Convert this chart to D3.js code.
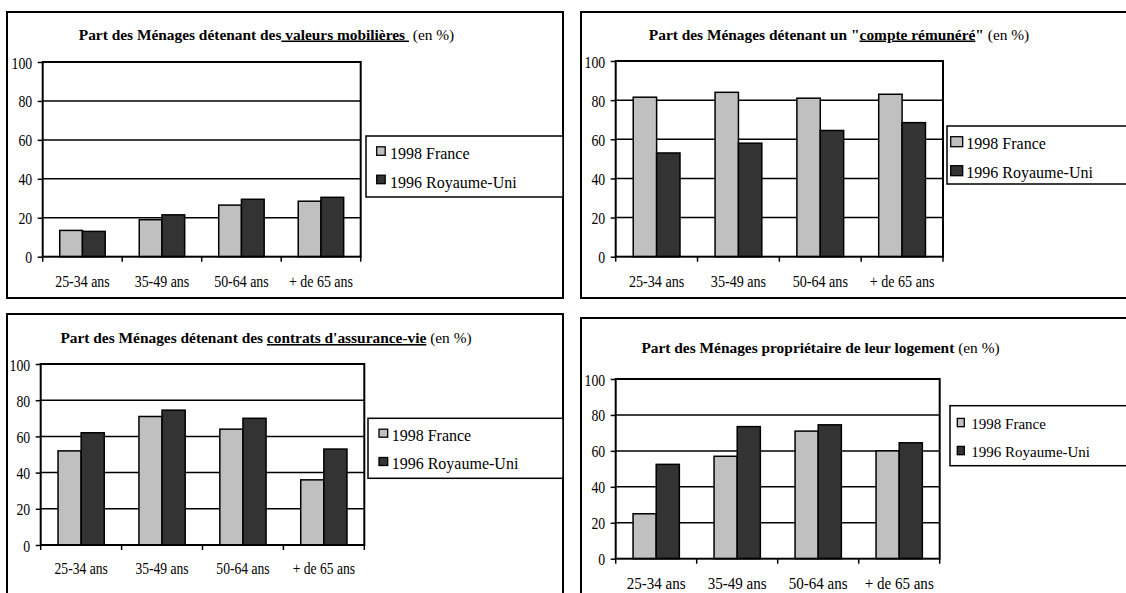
<!DOCTYPE html>
<html><head><meta charset="utf-8">
<script src="https://cdn.jsdelivr.net/npm/d3@7/dist/d3.min.js"></script>
<style>body{margin:0;background:#fff;overflow:hidden} svg{display:block}</style>
</head><body><svg id="c" width="1126" height="593"></svg>
<script>
// ---- data ----
const categories = ["25-34 ans", "35-49 ans", "50-64 ans", "+ de 65 ans"];
const seriesNames = ["1998 France", "1996 Royaume-Uni"];
const yTicks = [0, 20, 40, 60, 80, 100];
const valeursFrance = [13.5, 19, 26.5, 28.5];
const valeursRU = [13, 21.5, 29.5, 30.5];
const compteFrance = [81.5, 84, 81, 83];
const compteRU = [53, 58, 64.5, 68.5];
const assuranceFrance = [52, 71, 64, 36];
const assuranceRU = [62, 74.5, 70, 53];
const logementFrance = [25, 57, 71, 60];
const logementRU = [52.5, 73.5, 74.5, 64.5];
const titleValeurs = [["Part des Ménages détenant des", "b"], [" valeurs mobilières ", "bu"], [" (en %)", "r"]];
const titleCompte = [["Part des Ménages détenant un \"", "b"], ["compte rémunéré", "bu"], ["\"", "b"], [" (en %)", "r"]];
const titleAssurance = [["Part des Ménages détenant des ", "b"], ["contrats d'assurance-vie", "bu"], [" (en %)", "r"]];
const titleLogement = [["Part des Ménages propriétaire de leur logement", "b"], [" (en %)", "r"]];

const colors = ["#c0c0c0", "#333333"];
const FONT = "Liberation Serif";

// ---- layout ----
const panels = [
  {france: valeursFrance, ru: valeursRU, title: titleValeurs,
   frame: [7, 12, 556, 286], plot: [42.7, 62, 318, 194.7], titleX: 266.5, titleY: 39.5, xLabY: 286.5,
   leg: {x: 366, y: 136, w: 197, h: 61, sx: 10.7, sw: 8.5, sh: 8.5, sdy: -12.5, tx: 24, rows: [23.3, 51.7], fs: 16},
   xfs: 17, xsc: 0.82},
  {france: compteFrance, ru: compteRU, title: titleCompte,
   frame: [581, 12, 600, 286], plot: [615.7, 61, 327.3, 195.7], titleX: 839, titleY: 39.5, xLabY: 286.5,
   leg: {x: 947, y: 126, w: 200, h: 58, sx: 3.7, sw: 12, sh: 10, sdy: -12.3, tx: 19.3, rows: [23, 52], fs: 16},
   xfs: 17, xsc: 0.83},
  {france: assuranceFrance, ru: assuranceRU, title: titleAssurance,
   frame: [7, 314, 556, 300], plot: [40.7, 364, 323.6, 181], titleX: 266, titleY: 343, xLabY: 574,
   leg: {x: 368, y: 418.3, w: 195, h: 60, sx: 11, sw: 8.7, sh: 8, sdy: -11.5, tx: 23.7, rows: [22.4, 50.7], fs: 16},
   xfs: 17, xsc: 0.80},
  {france: logementFrance, ru: logementRU, title: titleLogement,
   frame: [581, 318, 600, 300], plot: [615.7, 379, 324, 179.7], titleX: 820.5, titleY: 353, xLabY: 588.5,
   leg: {x: 950, y: 405.7, w: 200, h: 60, sx: 7.3, sw: 7, sh: 8.3, sdy: -10.3, tx: 21.3, rows: [23, 51], fs: 15},
   xfs: 17.5, xsc: 0.86}
];

const svg = d3.select("#c");

panels.forEach(p => {
  const g = svg.append("g");
  const [fx, fy, fw, fh] = p.frame;
  g.append("rect").attr("x", fx).attr("y", fy).attr("width", fw).attr("height", fh)
    .attr("fill", "#fff").attr("stroke", "#000").attr("stroke-width", 2);

  // title
  const t = g.append("text").attr("x", p.titleX).attr("y", p.titleY)
    .attr("text-anchor", "middle").style("font-family", FONT).attr("font-size", 15.4).attr("fill", "#000")
    .style("white-space", "pre");
  p.title.forEach(([s, st]) => {
    const ts = t.append("tspan").text(s)
      .attr("font-weight", st.includes("b") ? "bold" : "normal");
    if (st.includes("u")) ts.attr("text-decoration", "underline");
  });

  const [px, py, pw, ph] = p.plot;
  const x = d3.scaleBand().domain(categories).range([px, px + pw]).padding(0);
  const x1 = d3.scaleBand().domain(seriesNames).range([0, x.bandwidth()]).paddingInner(0).paddingOuter(0.75);
  const y = d3.scaleLinear().domain([0, 100]).range([py + ph, py]);

  g.append("rect").attr("x", px).attr("y", py).attr("width", pw).attr("height", ph).attr("fill", "#fff");

  // gridlines
  g.append("g").selectAll("line").data(yTicks.filter(v => v > 0 && v < 100)).join("line")
    .attr("x1", px).attr("x2", px + pw).attr("y1", d => y(d)).attr("y2", d => y(d))
    .attr("stroke", "#000").attr("stroke-width", 1.5);

  // bars
  const rows = categories.map((c, i) => ({c, v: [p.france[i], p.ru[i]]}));
  g.append("g").selectAll("g").data(rows).join("g")
    .attr("transform", d => `translate(${x(d.c)},0)`)
    .selectAll("rect").data(d => d.v.map((v, k) => ({v, k}))).join("rect")
    .attr("x", d => x1(seriesNames[d.k])).attr("width", x1.bandwidth())
    .attr("y", d => y(d.v)).attr("height", d => y(0) - y(d.v))
    .attr("fill", d => colors[d.k]).attr("stroke", "#000").attr("stroke-width", 1.5);

  // plot border
  g.append("rect").attr("x", px).attr("y", py).attr("width", pw).attr("height", ph)
    .attr("fill", "none").attr("stroke", "#000").attr("stroke-width", 2);

  // y axis
  const ya = g.append("g").attr("transform", `translate(${px},0)`)
    .call(d3.axisLeft(y).tickValues(yTicks).tickSize(5).tickSizeOuter(0).tickPadding(0));
  ya.attr("font-family", null);
  ya.select(".domain").remove();
  ya.selectAll(".tick line").attr("stroke", "#000").attr("stroke-width", 1.5);
  ya.selectAll(".tick text").style("font-family", FONT).attr("font-size", 17).attr("fill", "#000")
    .attr("x", null).attr("dy", null).attr("dominant-baseline", "central")
    .attr("transform", "translate(-10.5,0) scale(0.81,1)");

  // x axis labels
  const xa = g.append("g").attr("transform", `translate(0,${py + ph})`)
    .call(d3.axisBottom(x).tickSize(0).tickPadding(0));
  xa.attr("font-family", null);
  xa.select(".domain").remove();
  xa.selectAll(".tick text").style("font-family", FONT).attr("font-size", p.xfs).attr("fill", "#000")
    .attr("y", null).attr("dy", null)
    .attr("transform", `translate(0,${p.xLabY - (py + ph)}) scale(${p.xsc},1)`);
  // x tick marks at category boundaries
  const bounds = categories.map(c => x(c)).concat([x(categories[categories.length - 1]) + x.bandwidth()]);
  g.append("g").selectAll("line").data(bounds).join("line")
    .attr("x1", d => d).attr("x2", d => d).attr("y1", py + ph).attr("y2", py + ph + 5)
    .attr("stroke", "#000").attr("stroke-width", 1.5);

  // legend
  const L = p.leg;
  const lg = g.append("g");
  lg.append("rect").attr("x", L.x).attr("y", L.y).attr("width", L.w).attr("height", L.h)
    .attr("fill", "#fff").attr("stroke", "#000").attr("stroke-width", 1.5);
  seriesNames.forEach((s, k) => {
    const by = L.y + L.rows[k];
    lg.append("rect").attr("x", L.x + L.sx).attr("y", by + L.sdy).attr("width", L.sw).attr("height", L.sh)
      .attr("fill", colors[k]).attr("stroke", "#000").attr("stroke-width", 1.3);
    lg.append("text").attr("x", L.x + L.tx).attr("y", by).text(s)
      .style("font-family", FONT).attr("font-size", L.fs).attr("fill", "#000");
  });
});
</script>
</body></html>
